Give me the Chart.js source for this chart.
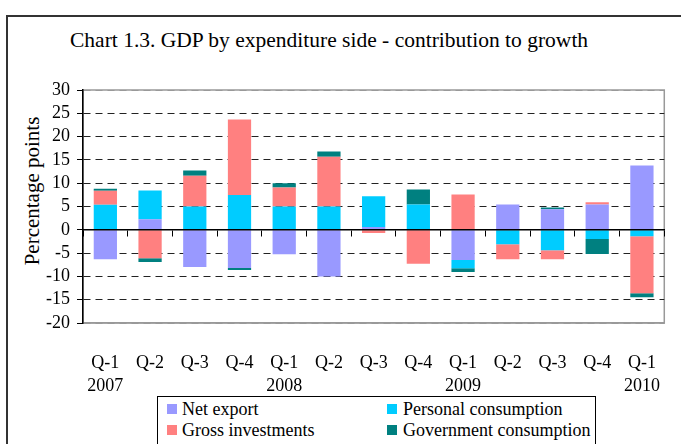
<!DOCTYPE html>
<html>
<head>
<meta charset="utf-8">
<script src="https://cdn.jsdelivr.net/npm/chart.js@4"></script>
<style>
    body { margin: 0; overflow: hidden; background: #fff; }
    #wrap { position: relative; width: 681px; height: 444px; overflow: hidden; font-family: 'Liberation Serif', serif; color: #000; }
    #frame { position: absolute; left: 6px; top: 15px; width: 720px; height: 480px; border: 2px solid #333; box-sizing: border-box; }
    #title { position: absolute; left: 70px; top: 27px; font-size: 21.5px; line-height: 26px; white-space: nowrap; }
    #ytitle { position: absolute; left: 32px; top: 191px; font-size: 21px; white-space: nowrap; transform: translate(-50%, -50%) rotate(-90deg); }
    #chart { position: absolute; left: 0; top: 0; }
    #legend { position: absolute; left: 157px; top: 396px; width: 439px; height: 70px; border: 1px solid #000; background: #fff; box-sizing: border-box; }
    .sw { position: absolute; width: 10px; height: 10px; }
    .lt { position: absolute; font-size: 18px; line-height: 20px; white-space: nowrap; }
</style>
</head>
<body>
<div id="wrap">
    <div id="frame"></div>
    <div id="title">Chart 1.3. GDP by expenditure side - contribution to growth</div>
    <div id="ytitle">Percentage points</div>
    <canvas id="chart" width="681" height="444"></canvas>
    <div id="legend"></div>
</div>
<script>
// Data
const quarters = ['Q-1', 'Q-2', 'Q-3', 'Q-4', 'Q-1', 'Q-2', 'Q-3', 'Q-4', 'Q-1', 'Q-2', 'Q-3', 'Q-4', 'Q-1'];
const years = ['2007', '', '', '', '2008', '', '', '', '2009', '', '', '', '2010'];
const netExport = [-6.3, 2.25, -8.0, -8.2, -5.25, -10.0, 0.6, 0, -6.5, 5.45, 4.4, 5.45, 13.8];
const personalConsumption = [5.4, 6.2, 5.0, 7.45, 5.0, 5.0, 6.6, 5.45, -1.75, -3.1, -4.4, -2.0, -1.4];
const grossInvestments = [3.0, -6.1, 6.6, 16.2, 4.1, 10.7, -0.7, -7.3, 7.6, -3.2, -1.9, 0.45, -12.2];
const governmentConsumption = [0.4, -0.8, 1.1, -0.4, 0.9, 1.1, 0, 3.2, -0.8, 0, 0.4, -3.2, -0.9];
const yTicks = [30, 25, 20, 15, 10, 5, 0, -5, -10, -15, -20];

const font = { family: 'Liberation Serif', size: 18 };

// grey frame around the plot area
const plotFrame = {
    id: 'plotFrame',
    beforeDraw(chart) {
        const { ctx, chartArea: a } = chart;
        ctx.save();
        ctx.strokeStyle = '#999';
        ctx.lineWidth = 1.5;
        ctx.strokeRect(a.left, a.top, a.right - a.left, a.bottom - a.top);
        ctx.restore();
    }
};

const ctx = document.getElementById('chart').getContext('2d');
const chart = new Chart(ctx, {
    type: 'bar',
    data: {
        labels: quarters.map((q, i) => [q, years[i]]),
        datasets: [
            { label: 'Net export', data: netExport, backgroundColor: '#9999FF' },
            { label: 'Personal consumption', data: personalConsumption, backgroundColor: '#00CCFF' },
            { label: 'Gross investments', data: grossInvestments, backgroundColor: '#FF8080' },
            { label: 'Government consumption', data: governmentConsumption, backgroundColor: '#008080' }
        ]
    },
    options: {
        responsive: false,
        animation: false,
        barPercentage: 0.52,
        categoryPercentage: 1,
        layout: { padding: { top: 90, right: 2, left: 0, bottom: 0 } },
        plugins: {
            legend: { display: false },
            tooltip: { enabled: false }
        },
        scales: {
            x: {
                stacked: true,
                afterFit: s => { s.height = 121; },
                grid: { display: false },
                border: { display: true, color: '#999', width: 1.5 },
                ticks: { font: { ...font, lineHeight: 1.28 }, color: '#000', padding: 21, autoSkip: false, maxRotation: 0 }
            },
            x2: {
                type: 'category',
                position: { y: 0 },
                offset: true,
                grid: { offset: true, drawOnChartArea: false, drawTicks: true, tickLength: 6, color: '#000', z: 1 },
                border: { display: true, color: '#000', width: 1.5, z: 1 },
                ticks: { display: false }
            },
            y: {
                stacked: true,
                min: -20,
                max: 30,
                afterFit: s => { s.width = 83; },
                afterBuildTicks: s => { s.ticks = yTicks.map(v => ({ value: v })); },
                grid: {
                    color: c => {
                        const v = c.tick ? c.tick.value : null;
                        if (v === 0) return 'rgba(0,0,0,0)';
                        if (v === 30 || v === -20) return '#999';
                        return '#222';
                    },
                    tickColor: '#000',
                    tickLength: 6,
                    lineWidth: 1
                },
                border: { display: true, color: '#000', width: 1.5, dash: [7, 5] },
                ticks: { font: font, color: '#000', padding: 7, autoSkip: false }
            }
        }
    },
    plugins: [plotFrame]
});

// legend built from the chart's own datasets, two columns
const legend = document.getElementById('legend');
const items = chart.options.plugins.legend.labels.generateLabels(chart);
items.forEach((it, i) => {
    const col = i % 2, row = Math.floor(i / 2);
    const sw = document.createElement('div');
    sw.className = 'sw';
    sw.style.background = it.fillStyle;
    sw.style.left = (col ? 229 : 9) + 'px';
    sw.style.top = (row ? 28 : 7) + 'px';
    const tx = document.createElement('div');
    tx.className = 'lt';
    tx.textContent = it.text;
    tx.style.left = (col ? 245 : 24) + 'px';
    tx.style.top = (row ? 23 : 2) + 'px';
    legend.appendChild(sw);
    legend.appendChild(tx);
});
</script>
</body>
</html>
